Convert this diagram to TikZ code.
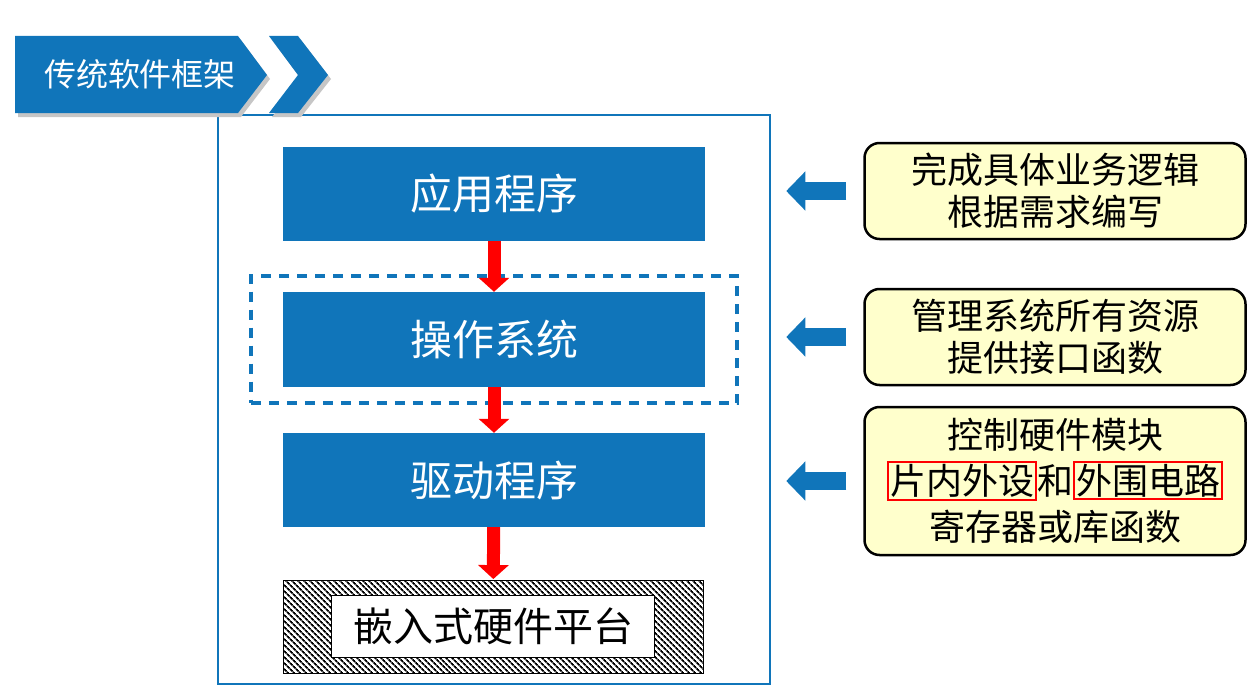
\documentclass[tikz,border=0pt]{standalone}
\usepackage{fontspec}
\newfontfamily\cjk{Noto Sans CJK SC}
\usepackage{tikz}
\usetikzlibrary{positioning,arrows.meta,fit,patterns.meta}
\definecolor{layerblue}{RGB}{16,117,186}
\definecolor{noteyellow}{RGB}{255,255,204}
\newcommand{\redframe}[1]{{\setlength{\fboxrule}{2pt}\setlength{\fboxsep}{1pt}\fcolorbox{red}{noteyellow}{#1}}}

\begin{document}
\begin{tikzpicture}[
		x=1pt, y=-1pt,
		layer/.style={
			fill=layerblue,
			text=white,
			minimum width=422pt,
			minimum height=94pt,
			font=\cjk\fontsize{42}{48}\selectfont
		},
		note/.style={
			draw,
			line width=2.5pt,
			fill=noteyellow,
			rounded corners=15pt,
			align=center,
			minimum width=381pt,
			font=\cjk\fontsize{36}{42}\selectfont
		},
		downarrow/.style={draw=red, line width=13pt, -{Triangle[width=30pt,length=14pt]}},
		backarrow/.style={draw=layerblue, line width=18pt, -{Triangle[width=38pt,length=19pt]}}
		]
		
		\useasboundingbox (0,0) rectangle (1248,685);
		
		% outer frame
		\draw[layerblue, line width=2.5pt] (218,115) rectangle (770,684);
		
		% title banner
		\fill[gray!45] (18,40) -- (241,40) -- (270,79) -- (241,117) -- (18,117) -- cycle;
		\fill[gray!45] (272,40) -- (301,40) -- (331,79) -- (301,117) -- (272,117) -- (301,79) -- cycle;
		\fill[layerblue] (15,36) -- (238,36) -- (267,75) -- (238,113) -- (15,113) -- cycle;
		\fill[layerblue] (269,36) -- (298,36) -- (328,75) -- (298,113) -- (269,113) -- (298,75) -- cycle;
		\node[text=white, font=\cjk\fontsize{32}{36}\selectfont] (title) at (140,74) {传统软件框架};
		
		\node[layer] (app) at (494,193.5) {应用程序};
		\node[layer, minimum height=95pt] (os) at (494,339.5) {操作系统};
		\node[layer] (drv) at (494,480) {驱动程序};
		
		\node[draw, pattern={Lines[angle=-45,distance=4pt,line width=1.9pt]},
		minimum width=420pt, minimum height=93pt] (hw) at (493,626.5) {};
		\node[draw, fill=white, minimum width=323pt, minimum height=62pt,
		font=\cjk\fontsize{40}{44}\selectfont] (hwtext) at (hw.center) {嵌入式硬件平台};
		
		\node[fit=(os), inner xsep=32pt, inner ysep=16pt, draw=layerblue,
		line width=3.5pt, dash pattern=on 10pt off 8pt] (osbox) {};
		
		\draw[downarrow] (app) -- (os);
		\draw[downarrow] (os) -- (drv);
		\draw[downarrow] (drv) -- (hw);
		
		\node[note, minimum height=96pt] (n1) at (1055,191)
		{完成具体业务逻辑\\根据需求编写};
		\node[note, minimum height=96pt] (n2) at (1055,337)
		{管理系统所有资源\\提供接口函数};
		\node[note, minimum height=148pt, font=\cjk\fontsize{36}{46}\selectfont] (n3) at (1055,481)
		{控制硬件模块\\\redframe{片内外设}和\redframe{外围电路}\\寄存器或库函数};
		
		\foreach \n in {n1,n2,n3}{
			\coordinate (\n tip) at ([xshift=-77pt]\n.west);
			\draw[backarrow] ([xshift=-17pt]\n.west) -- (\n tip);
		}
		
	\end{tikzpicture}
\end{document}
